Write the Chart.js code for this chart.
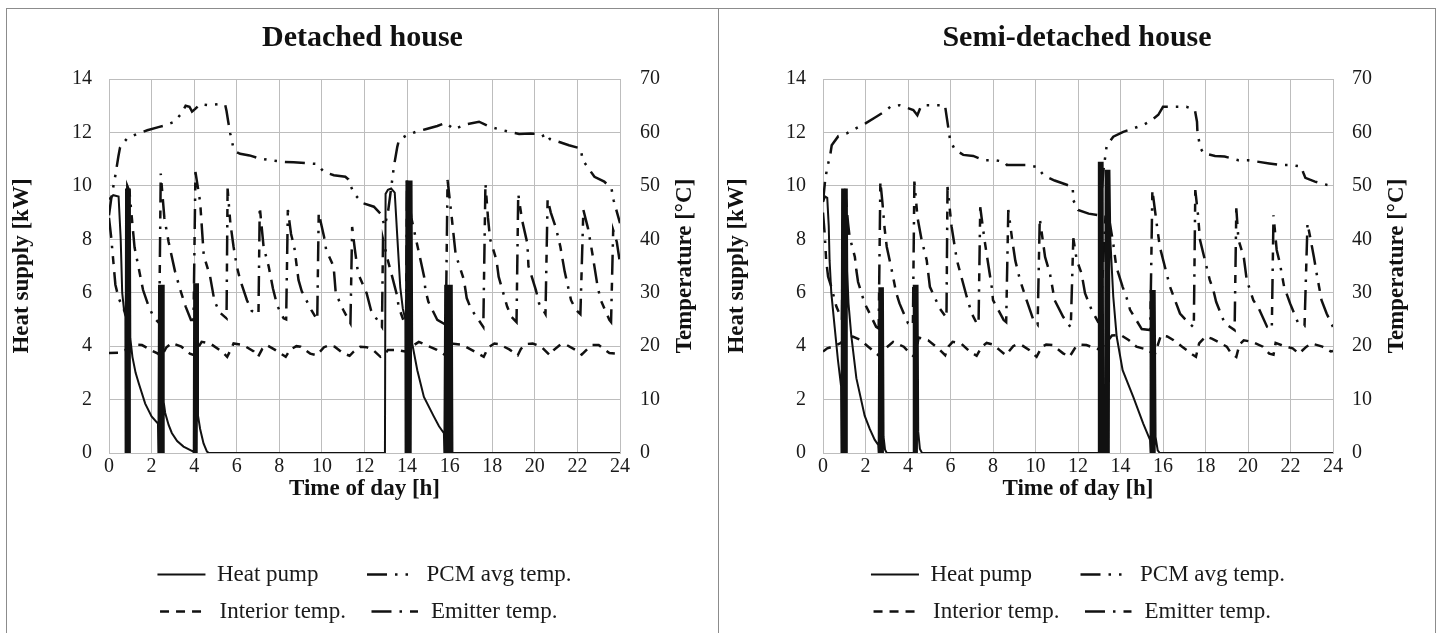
<!DOCTYPE html>
<html>
<head>
<meta charset="utf-8">
<script src="https://cdn.jsdelivr.net/npm/chart.js@4.4.1/dist/chart.umd.min.js"></script>
<style>
  html, body { margin: 0; padding: 0; background: #fff; overflow: hidden; }
  body { width: 1439px; height: 633px; position: relative; }
  .panel { position: absolute; top: 8px; height: 640px; border: 1px solid #8c8c8c; box-sizing: border-box; }
  #p1 { left: 6px; width: 713px; }
  #p2 { left: 718px; width: 718px; }
  .panel .box { position: absolute; left: 0; top: 0; right: 0; height: 624px; }
</style>
</head>
<body>
<div class="panel" id="p1"><div class="box"><canvas id="c1"></canvas></div></div>
<div class="panel" id="p2"><div class="box"><canvas id="c2"></canvas></div></div>

<script>
// ---- data: [time of day (h), value] ----

// Detached house
const detHeatPump = [
  [0,9.5],[0.2,9.65],[0.45,9.6],[0.55,8.0],[0.62,6.0],[0.7,5.4],[0.77,5.1],[0.78,0],[0.8,9.9],[0.83,0],[0.86,9.9],
  [0.89,0],[0.92,9.9],[0.95,0],[0.98,9.9],[1.0,4.3],[1.1,3.6],[1.25,3.0],[1.4,2.6],[1.7,1.85],[2.0,1.37],[2.3,1.1],
  [2.32,0],[2.35,6.3],[2.39,0],[2.43,6.3],[2.47,0],[2.51,6.3],[2.54,0],[2.56,6.3],[2.58,1.9],[2.64,1.5],[2.8,1.05],
  [2.95,0.75],[3.2,0.45],[3.5,0.24],[3.8,0.12],[3.96,0.05],[3.98,0],[4.0,6.35],[4.04,0],[4.08,6.35],[4.12,0],
  [4.15,6.35],[4.18,1.4],[4.28,0.9],[4.44,0.36],[4.6,0.05],[4.7,0],[12.96,0],[12.99,9.7],[13.1,9.85],[13.25,9.9],
  [13.42,9.75],[13.54,8.1],[13.68,6.2],[13.8,5.4],[13.92,5.0],[13.93,0],[13.97,10.2],[14.01,0],[14.05,10.2],
  [14.09,0],[14.13,10.2],[14.17,0],[14.21,10.2],[14.24,4.1],[14.48,3.1],[14.79,2.1],[15.26,1.36],[15.5,1.0],
  [15.73,0.74],[15.75,0],[15.79,6.3],[15.83,0],[15.87,6.3],[15.91,0],[15.95,6.3],[15.99,0],[16.03,6.3],[16.07,0],
  [16.1,6.3],[16.13,0],[24,0]
];
const detPcm = [
  [0,44.5],[0.1,47.5],[0.2,49.8],[0.3,52],[0.44,55.5],[0.52,57.2],[0.83,58.8],[1.3,59.7],[1.8,60.4],[2.32,61],
  [2.64,61.3],[3.06,62],[3.42,63.6],[3.6,65],[3.78,64.8],[3.9,63.9],[4.05,64.4],[4.28,65.3],[4.67,65.1],[5.22,65.3],
  [5.46,65.1],[5.52,64],[5.6,62],[5.7,59.7],[5.82,57.5],[6.0,56.3],[6.16,56],[6.6,55.7],[7.1,55.1],[7.58,54.8],
  [8.2,54.5],[8.67,54.4],[9.77,54.1],[10.09,52.6],[10.56,52],[11.1,51.7],[11.25,51.2],[11.35,50],[11.5,48.6],
  [11.9,46.8],[12.44,46.1],[12.75,44.8],[12.95,42.5],[13.1,45],[13.25,49.5],[13.38,53.6],[13.54,57.3],[13.62,58.6],
  [14.0,59.5],[14.4,60.1],[14.87,60.6],[15.42,61.2],[15.8,61.8],[16.0,61.2],[16.2,60.6],[16.75,61.5],[17.38,62],
  [17.85,61.1],[18.8,60.1],[19.26,59.7],[19.8,59.8],[20.36,59.6],[20.5,58.4],[20.7,58.8],[21.15,58.2],[21.6,57.6],
  [22.15,57],[22.25,54.8],[22.8,51.7],[23.26,50.8],[23.6,49.5],[23.7,47.3],[24,43]
];
const detInterior = [
  [0,18.7],[0.5,18.8],[0.75,19.2],[1.0,20.2],[1.15,20.3],[1.55,20.2],[1.95,19.3],[2.3,18.6],[2.45,18.0],[2.7,19.8],
  [2.95,20.6],[3.4,19.9],[3.8,18.6],[4.0,18.3],[4.2,19.8],[4.35,20.8],[4.75,20.5],[5.3,19.0],[5.55,18.0],[5.75,19.6],
  [5.85,20.5],[6.3,20.2],[6.8,19.0],[7.0,18.0],[7.2,19.5],[7.4,20.2],[7.8,19.3],[8.3,18.0],[8.5,19.3],[8.8,20.0],
  [9.0,19.9],[9.45,18.6],[9.75,18.3],[10.1,19.8],[10.35,20.2],[10.6,19.9],[11.0,18.65],[11.3,18.2],[11.5,19.0],
  [11.8,19.9],[12.1,19.8],[12.4,19.3],[12.75,18.0],[12.95,18.4],[13.1,19.3],[13.5,19.3],[13.9,19.0],[14.1,19.6],
  [14.55,20.8],[14.9,20.2],[15.4,19.3],[15.8,18.3],[16.05,20.5],[16.5,20.3],[16.75,19.9],[17.3,18.7],[17.6,18.0],
  [17.8,19.7],[18.1,20.5],[18.3,20.4],[18.8,19.4],[19.2,18.3],[19.35,19.5],[19.6,20.4],[19.9,20.5],[20.3,19.9],
  [20.7,18.3],[20.9,19.3],[21.2,20.3],[21.5,20.2],[21.9,19.3],[22.2,18.4],[22.5,19.6],[22.7,20.2],[23.0,20.2],
  [23.5,18.7],[23.8,18.6],[24,19.3]
];
const detEmitter = [
  [0,44],[0.1,40.5],[0.2,36],[0.3,31.5],[0.45,29],[0.63,27.4],[0.8,26],[0.86,50],[0.96,49],[1.05,45],[1.2,38.5],
  [1.38,34.9],[1.6,30.5],[1.85,27.6],[2.1,25.4],[2.36,24.3],[2.43,52.3],[2.6,44],[2.8,39.5],[3.1,34],[3.35,30.5],
  [3.6,27.4],[3.85,24.9],[3.97,24.9],[4.06,52.6],[4.28,47],[4.45,37],[4.75,33],[4.95,28.5],[5.2,26.3],[5.52,25.2],
  [5.57,49.5],[5.7,43],[5.85,38.6],[6.0,35],[6.16,32.4],[6.48,28.6],[6.7,26.6],[7.02,26],[7.08,46.1],[7.26,38.6],
  [7.5,34.9],[7.7,30.8],[7.9,27.6],[8.2,25.2],[8.32,25],[8.4,45.5],[8.55,41],[8.7,38.6],[8.9,32.4],[9.05,30.3],
  [9.5,26.8],[9.78,24.9],[9.85,44.9],[10.1,40.5],[10.2,38],[10.55,34.9],[10.65,29.9],[11.0,26.8],[11.34,24.3],
  [11.42,42.3],[11.55,38],[11.7,33.6],[12.1,29.9],[12.3,26.8],[12.5,25.5],[12.82,23.6],[12.87,40],[13.1,36],
  [13.3,33],[13.54,29.3],[13.6,27.4],[13.85,24.6],[13.95,24.3],[14.0,51],[14.2,44],[14.48,38.9],[14.8,33],
  [14.86,30.5],[15.0,28.3],[15.42,24.9],[15.82,24],[15.9,51.1],[16.1,44],[16.28,37.2],[16.67,32.4],[16.8,29],
  [17.0,27],[17.58,23.6],[17.68,50.5],[17.8,44],[17.9,40],[18.2,36.1],[18.3,33],[18.7,27.4],[18.9,25.5],
  [19.14,24.5],[19.22,48.5],[19.4,43.6],[19.65,39.2],[19.7,35],[20.05,30.5],[20.2,28],[20.5,26],[20.6,47.5],
  [20.75,45],[21.0,42],[21.2,38.6],[21.4,34],[21.7,28.6],[21.93,26.8],[22.14,26],[22.28,45.5],[22.5,42],
  [22.7,37.4],[22.95,31.1],[23.1,28.6],[23.5,24.9],[23.58,24.5],[23.68,41.7],[23.85,39.5],[24,35.5]
];

// Semi-detached house
const semiHeatPump = [
  [0,9.4],[0.1,9.6],[0.2,9.55],[0.27,8.5],[0.31,7.2],[0.39,6.0],[0.55,4.7],[0.7,3.5],[0.85,2.5],[0.87,0],[0.9,9.9],
  [0.93,0],[0.96,9.9],[0.99,0],[1.02,9.9],[1.05,0],[1.08,9.9],[1.1,0],[1.12,9.9],[1.14,6.8],[1.2,5.6],[1.33,4.4],
  [1.57,2.8],[1.96,1.4],[2.2,0.9],[2.43,0.5],[2.6,0.3],[2.62,0],[2.65,6.2],[2.68,0],[2.71,6.2],[2.74,0],[2.77,6.2],
  [2.8,0],[2.82,6.2],[2.85,0.6],[2.92,0.12],[3.0,0],[4.24,0],[4.27,6.3],[4.3,0],[4.33,6.3],[4.36,0],[4.39,6.3],
  [4.42,0],[4.45,6.3],[4.48,0.8],[4.56,0.15],[4.66,0],[12.96,0],[12.98,10.9],[13.01,0],[13.04,10.9],[13.07,0],
  [13.1,10.9],[13.13,0],[13.16,10.9],[13.19,0],[13.27,0],[13.3,10.6],[13.33,0],[13.36,10.6],[13.39,0],[13.42,10.6],
  [13.45,0],[13.48,10.6],[13.52,8.0],[13.66,5.85],[13.82,4.36],[14.1,3.1],[14.6,2.1],[15.07,1.1],[15.39,0.49],
  [15.4,0],[15.43,6.1],[15.46,0],[15.49,6.1],[15.52,0],[15.55,6.1],[15.58,0],[15.61,6.1],[15.65,0.6],[15.75,0.1],
  [15.85,0],[24,0]
];
const semiPcm = [
  [0,47],[0.1,51],[0.2,53.5],[0.33,55.5],[0.41,57.6],[0.72,59.3],[1.1,59.8],[2.0,61.7],[2.45,62.8],[2.9,63.9],
  [3.2,64.9],[3.6,65.1],[4.25,64.2],[4.44,63.2],[4.6,64.8],[4.72,65.1],[5.74,65.1],[5.82,62.9],[5.9,60.8],
  [5.98,58.6],[6.2,56.8],[6.6,55.8],[7.07,55.6],[7.55,54.8],[8.1,54.8],[8.55,54.5],[8.65,53.9],[8.96,53.9],
  [9.58,53.9],[10.1,53.5],[10.37,52],[10.9,51],[11.47,50.2],[11.75,49.8],[11.78,47.3],[12.0,45.5],[12.5,44.8],
  [12.96,44.5],[13.1,48],[13.2,53],[13.35,57.5],[13.66,59.2],[14.13,60.1],[15.07,61.4],[15.47,62.3],[15.78,63.3],
  [16.0,64.8],[17.1,64.8],[17.5,64.2],[17.6,62],[17.62,60.1],[17.75,57.2],[17.9,56.1],[18.45,55.6],[18.9,55.5],
  [19.55,54.8],[20.0,54.8],[21.0,54.2],[21.5,53.9],[22.05,53.9],[22.5,53.6],[22.6,52.5],[22.7,51.5],[23.15,50.8],
  [23.7,50.2],[24,50]
];
const semiInterior = [
  [0,19.0],[0.2,19.6],[0.45,19.9],[0.8,20.5],[1.1,21.5],[1.4,21.8],[1.74,21.2],[2.13,19.9],[2.5,18.65],[2.7,18.0],
  [2.95,19.6],[3.3,20.8],[3.8,19.9],[4.1,18.6],[4.3,18.0],[4.45,20.5],[4.5,21.6],[4.95,21.1],[5.5,19.3],[5.75,18.3],
  [5.9,19.9],[6.1,20.8],[6.5,20.5],[6.9,19.0],[7.23,18.2],[7.47,19.9],[7.7,20.6],[8.0,20.3],[8.3,19.3],[8.6,18.3],
  [8.95,20.0],[9.1,20.3],[9.35,20.2],[9.7,19.3],[10.05,18.0],[10.3,19.9],[10.5,20.3],[10.8,20.2],[11.3,18.65],
  [11.6,18.0],[11.9,19.9],[12.1,20.3],[12.4,20.2],[12.8,19.6],[13.0,19.4],[13.3,20.5],[13.6,22.0],[14.0,22.1],
  [14.4,21.1],[14.75,19.9],[15.3,19.3],[15.6,18.3],[15.9,22.0],[16.2,21.8],[16.5,21.1],[16.9,19.9],[17.4,18.4],
  [17.55,18.0],[17.7,20.5],[18.0,21.8],[18.3,21.4],[18.6,20.8],[19.0,19.9],[19.2,18.7],[19.45,18.0],[19.6,20.3],
  [19.8,21.1],[20.2,20.8],[20.7,19.9],[21.0,18.6],[21.2,18.4],[21.3,20.6],[21.7,20.0],[22.1,19.6],[22.4,18.6],
  [22.75,19.9],[23.0,20.5],[23.5,19.9],[23.9,19.0],[24,19.1]
];
const semiEmitter = [
  [0,45],[0.08,41],[0.15,36],[0.24,33],[0.39,31.1],[0.63,27.4],[0.89,25],[0.95,50],[1.05,48.6],[1.18,43],[1.25,40.5],
  [1.5,36.7],[1.57,34.2],[1.65,32],[1.96,28],[2.2,26.1],[2.5,23.6],[2.62,23.3],[2.7,50.8],[2.8,46.7],[2.9,42],
  [3.0,38.6],[3.2,34.9],[3.45,29.9],[3.6,28],[4.0,24.3],[4.23,23.8],[4.3,50.8],[4.45,44],[4.64,39.9],[4.88,36.1],
  [5.03,31.1],[5.5,27],[5.81,25.3],[5.86,49.8],[6.05,42.4],[6.2,38.6],[6.3,36.1],[6.76,29.3],[7.0,26.1],[7.23,24.3],
  [7.32,24.1],[7.4,46],[7.6,39.9],[7.95,30.8],[8.0,28.6],[8.5,24.9],[8.62,24.5],[8.72,45.5],[8.9,40],[9.05,36],
  [9.27,32.4],[9.58,28.6],[9.9,24.9],[10.1,24],[10.2,43.9],[10.45,36.7],[10.68,33.6],[10.9,28.6],[11.3,25.5],
  [11.66,23.5],[11.78,40.2],[11.94,36.1],[12.17,33.6],[12.33,29.9],[12.64,26.8],[12.95,24.5],[13.05,24.3],[13.3,45],
  [13.5,43],[13.66,39.2],[13.8,34.9],[14.1,31.1],[14.3,28.9],[14.45,26.8],[15.0,23.2],[15.4,23],[15.5,49.2],
  [15.7,43],[15.85,38.6],[16.17,33.6],[16.33,31.1],[16.8,26.1],[17.1,24.8],[17.45,23.5],[17.52,49.2],[17.65,44.5],
  [17.74,39.9],[18.2,32.4],[18.37,30.5],[18.5,28.3],[18.9,24.3],[19.37,23],[19.45,45.8],[19.55,39.9],[19.8,36.7],
  [19.94,32.4],[20.25,28.6],[20.5,27.1],[20.9,23.6],[21.12,23.2],[21.2,44.5],[21.35,38],[21.5,35.5],[21.7,31.1],
  [21.98,28],[22.36,24.3],[22.66,23.8],[22.8,43],[22.95,39.9],[23.1,36.7],[23.23,33.6],[23.46,28.6],[23.7,26.1],
  [24,23.6]
];

const seriesNames = ['Heat pump', 'PCM avg temp.', 'Interior temp.', 'Emitter temp.'];
// trailing spaces keep the two legend columns lined up like the original
const legendText = ['Heat pump      ', 'PCM avg temp.', 'Interior temp.  ', 'Emitter temp.  '];

const INK = '#111';
const GRID = '#bdbdbd';
const SERIF = '"Liberation Serif", "Times New Roman", serif';

Chart.defaults.font.family = SERIF;
Chart.defaults.color = '#1a1a1a';

const pts = arr => arr.map(p => ({ x: p[0], y: p[1] }));

// right-hand axis title reads bottom-to-top in the original
const rightTitle = {
  id: 'rightTitle',
  afterDraw(chart, args, opts) {
    const s = chart.scales.y2;
    const ctx = chart.ctx;
    ctx.save();
    ctx.translate(s.right - opts.offset, (s.top + s.bottom) / 2);
    ctx.rotate(-Math.PI / 2);
    ctx.font = 'bold 23px ' + SERIF;
    ctx.fillStyle = INK;
    ctx.textAlign = 'center';
    ctx.textBaseline = 'middle';
    ctx.fillText(opts.text, 0, 0);
    ctx.restore();
  }
};

function drawPanel(canvasId, title, hp, pcm, interior, emitter, box) {
  const line = { borderColor: INK, backgroundColor: INK, pointRadius: 0, tension: 0, fill: false, borderCapStyle: 'butt' };
  new Chart(document.getElementById(canvasId), {
    type: 'line',
    data: {
      datasets: [
        { ...line, label: seriesNames[0], data: pts(hp), yAxisID: 'y', borderWidth: 2 },
        { ...line, label: seriesNames[1], data: pts(pcm), yAxisID: 'y2', borderWidth: 2.5, borderDash: [20, 8, 2.5, 8, 2.5, 8] },
        { ...line, label: seriesNames[2], data: pts(interior), yAxisID: 'y2', borderWidth: 2.5, borderDash: [9, 7] },
        { ...line, label: seriesNames[3], data: pts(emitter), yAxisID: 'y2', borderWidth: 2.5, borderDash: [20, 8, 2.5, 8, 8, 8] }
      ]
    },
    options: {
      responsive: true, maintainAspectRatio: false, animation: false,
      layout: { padding: 0 },
      plugins: {
        title: { display: true, text: title, color: INK, font: { size: 30, weight: 'bold' }, padding: { top: 11.5, bottom: 22.5 } },
        legend: {
          position: 'bottom', fullSize: false,
          labels: {
            usePointStyle: true, pointStyle: 'line', pointStyleWidth: 48,
            padding: 14, color: '#1a1a1a', font: { size: 23 },
            generateLabels(chart) {
              const items = Chart.defaults.plugins.legend.labels.generateLabels(chart);
              items.forEach((it, i) => {
                const ds = chart.data.datasets[i];
                it.text = legendText[i];
                it.lineDash = ds.borderDash || [];
                it.lineWidth = ds.borderWidth;
                it.strokeStyle = ds.borderColor;
              });
              return items;
            }
          }
        },
        tooltip: { enabled: false },
        rightTitle: { text: 'Temperature [°C]', offset: box.y2TitleOffset }
      },
      scales: {
        x: {
          type: 'linear', min: 0, max: 24,
          ticks: { stepSize: 2, padding: 2, autoSkip: false, maxRotation: 0, font: { size: 20 }, color: '#1a1a1a' },
          grid: { color: GRID, drawTicks: false },
          border: { color: GRID },
          title: { display: true, text: 'Time of day [h]', color: INK, font: { size: 23, weight: 'bold' }, padding: { top: 0, bottom: 46.2 } },
          afterFit(s) { s.height = 96; }
        },
        y: {
          position: 'left', min: 0, max: 14,
          ticks: { stepSize: 2, padding: 17, font: { size: 20 }, color: '#1a1a1a' },
          grid: { color: GRID, drawTicks: false },
          border: { color: GRID },
          title: { display: true, text: 'Heat supply [kW]', color: INK, font: { size: 23, weight: 'bold' }, padding: { top: box.yTitlePad, bottom: 0 } },
          afterFit(s) { s.width = box.yWidth; }
        },
        y2: {
          position: 'right', min: 0, max: 70,
          ticks: { stepSize: 10, padding: box.y2TickPad, font: { size: 20 }, color: '#1a1a1a' },
          grid: { display: false, drawTicks: false },
          border: { display: false },
          afterFit(s) { s.width = box.y2Width; }
        }
      }
    },
    plugins: [rightTitle]
  });
}

drawPanel('c1', 'Detached house', detHeatPump, detPcm, detInterior, detEmitter,
  { yWidth: 102, y2Width: 98, yTitlePad: 1.2, y2TickPad: 20, y2TitleOffset: 33 });
drawPanel('c2', 'Semi-detached house', semiHeatPump, semiPcm, semiInterior, semiEmitter,
  { yWidth: 104, y2Width: 102, yTitlePad: 4.2, y2TickPad: 19, y2TitleOffset: 38 });
</script>
</body>
</html>
